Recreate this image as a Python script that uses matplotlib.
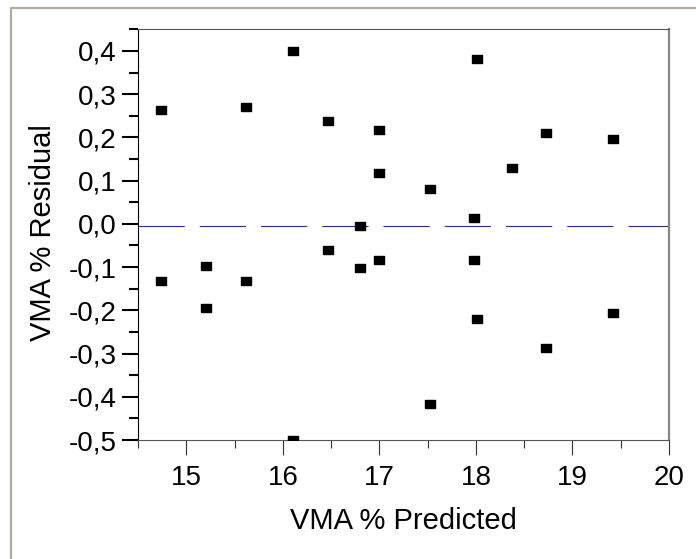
#residual plot for VMA model
import matplotlib.pyplot as plt
import numpy as np
from matplotlib.lines import Line2D
from matplotlib.ticker import MultipleLocator, FuncFormatter

plt.rcParams['font.family'] = ['Liberation Sans', 'DejaVu Sans']
plt.rcParams['lines.scale_dashes'] = False

# data
predicted = [14.74, 14.74, 15.20, 15.20, 15.62, 15.62, 16.11, 16.11, 16.47, 16.47,
             16.80, 16.80, 17.00, 17.00, 17.00, 17.52, 17.52, 17.985, 17.985,
             18.01, 18.01, 18.37, 18.73, 18.73, 19.42, 19.42]
residual = [0.263, -0.132, -0.097, -0.194, 0.271, -0.132, 0.400, -0.500, 0.239, -0.061,
            -0.006, -0.102, 0.216, 0.117, -0.084, 0.080, -0.416, 0.013, -0.084,
            0.381, -0.220, 0.130, 0.209, -0.287, 0.197, -0.206]
mean_line = -0.006

fig = plt.figure(figsize=(6.96, 5.59), dpi=100)
ax = fig.add_axes([138/696, 119/559, 531/696, 410.7/559])

# outer frame (top and left only)
fig.add_artist(Line2D([11/696, 11/696, 1.0], [0.0, 1 - 8.3/559, 1 - 8.3/559],
                      transform=fig.transFigure, color='#b0ac9f', lw=1.6))

# rectangular markers, a bit wider than tall
box = [(-5.5, -4.25), (5.5, -4.25), (5.5, 4.25), (-5.5, 4.25), (-5.5, -4.25)]
ax.plot(predicted, residual, linestyle='none', marker=box, markersize=7.9,
        color='black', zorder=3)

ax.axhline(mean_line, color='#2424e0', lw=0.8, dashes=(33.3, 10.8), zorder=2)

ax.set_xlim(14.5, 20)
ax.set_ylim(-0.5, 0.45)
ax.xaxis.set_major_locator(MultipleLocator(1))
ax.xaxis.set_minor_locator(MultipleLocator(0.5))
ax.yaxis.set_major_locator(MultipleLocator(0.1))
ax.yaxis.set_minor_locator(MultipleLocator(0.05))
ax.yaxis.set_major_formatter(FuncFormatter(lambda v, p: f"{v:.1f}".replace('.', ',').replace('-0,0', '0,0')))

ax.tick_params(axis='y', which='major', length=11.5, width=1.5, pad=4, labelsize=20, color='black')
ax.tick_params(axis='y', which='minor', length=6.5, width=1.5, color='black')
ax.tick_params(axis='x', which='major', length=10.8, width=0.8, pad=7, labelsize=20, color='#333333')
ax.tick_params(axis='x', which='minor', length=5.8, width=0.8, color='#333333')

ax.spines['left'].set_color('black')
ax.spines['left'].set_linewidth(0.8)
ax.spines['bottom'].set_color('#555555')
ax.spines['bottom'].set_linewidth(0.8)
ax.spines['top'].set_color('#555555')
ax.spines['top'].set_linewidth(0.8)
ax.spines['right'].set_color('#888888')
ax.spines['right'].set_linewidth(1.6)

ax.set_xlabel("VMA % Predicted", fontsize=21, va='center')
ax.set_ylabel("VMA % Residual", fontsize=21, va='center')
ax.xaxis.set_label_coords(0.5, -0.197)
ax.yaxis.set_label_coords(-0.179, 0.505)

plt.savefig("out.png", dpi=100)
